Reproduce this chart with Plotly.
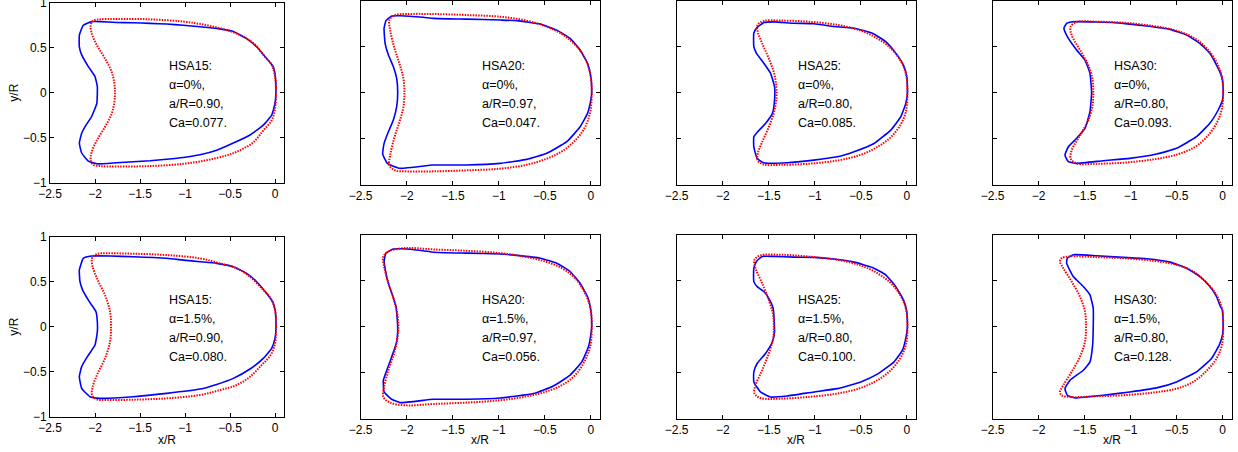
import plotly.graph_objects as go

# ---------------- data (x/R, y/R) ----------------
hsa15_a0_exp = [(0.01,0),(0.004,0.178),(-0.02,0.29),(-0.093,0.38),(-0.204,0.51),(-0.315,0.60),(-0.463,0.68),(-0.648,0.715),(-0.833,0.733),(-1.019,0.75),(-1.204,0.763),(-1.389,0.77),(-1.574,0.778),(-1.759,0.78),(-1.944,0.79),(-2.037,0.79),(-2.13,0.75),(-2.174,0.64),(-2.174,0.51),(-2.148,0.42),(-2.074,0.29),(-2.0,0.18),(-1.974,0.067),(-1.974,0),(-1.98,-0.12),(-2.04,-0.27),(-2.1,-0.36),(-2.148,-0.45),(-2.174,-0.56),(-2.148,-0.67),(-2.074,-0.76),(-1.98,-0.79),(-1.759,-0.778),(-1.574,-0.767),(-1.389,-0.756),(-1.204,-0.74),(-1.019,-0.72),(-0.833,-0.69),(-0.648,-0.64),(-0.463,-0.56),(-0.278,-0.47),(-0.13,-0.36),(-0.037,-0.25),(0,-0.12)]
hsa15_a0_sim = [(0.011,0),(0,0.178),(-0.037,0.307),(-0.13,0.42),(-0.24,0.55),(-0.389,0.64),(-0.537,0.696),(-0.76,0.75),(-1.019,0.79),(-1.389,0.815),(-1.759,0.82),(-1.944,0.815),(-2.02,0.80),(-2.048,0.75),(-2.037,0.66),(-1.98,0.53),(-1.889,0.38),(-1.815,0.233),(-1.785,0.104),(-1.778,0),(-1.785,-0.104),(-1.815,-0.233),(-1.889,-0.38),(-1.98,-0.53),(-2.037,-0.66),(-2.048,-0.75),(-2.02,-0.80),(-1.944,-0.815),(-1.759,-0.82),(-1.389,-0.815),(-1.019,-0.79),(-0.76,-0.75),(-0.537,-0.696),(-0.389,-0.64),(-0.24,-0.55),(-0.13,-0.42),(-0.037,-0.307),(0,-0.178)]

hsa20_a0_exp = [(0.01,0),(0,0.174),(-0.036,0.319),(-0.116,0.464),(-0.225,0.59),(-0.37,0.68),(-0.55,0.746),(-0.804,0.783),(-0.986,0.79),(-1.348,0.80),(-1.71,0.808),(-1.82,0.82),(-2.07,0.837),(-2.163,0.833),(-2.225,0.783),(-2.246,0.70),(-2.235,0.536),(-2.199,0.409),(-2.145,0.283),(-2.109,0.156),(-2.098,0),(-2.109,-0.152),(-2.145,-0.297),(-2.199,-0.424),(-2.246,-0.551),(-2.261,-0.667),(-2.21,-0.768),(-2.072,-0.822),(-1.71,-0.786),(-1.348,-0.786),(-0.986,-0.768),(-0.696,-0.725),(-0.478,-0.659),(-0.261,-0.533),(-0.116,-0.37),(-0.036,-0.225),(0,-0.08)]
hsa20_a0_sim = [(0.01,0),(-0.007,0.21),(-0.062,0.373),(-0.152,0.5),(-0.297,0.627),(-0.478,0.717),(-0.696,0.783),(-0.986,0.826),(-1.348,0.844),(-1.71,0.855),(-2.0,0.855),(-2.127,0.844),(-2.188,0.79),(-2.18,0.681),(-2.138,0.5),(-2.08,0.319),(-2.036,0.156),(-2.025,0),(-2.036,-0.156),(-2.08,-0.319),(-2.138,-0.5),(-2.18,-0.681),(-2.188,-0.79),(-2.127,-0.844),(-2.0,-0.855),(-1.71,-0.855),(-1.348,-0.844),(-0.986,-0.826),(-0.696,-0.783),(-0.478,-0.717),(-0.297,-0.627),(-0.152,-0.5),(-0.062,-0.373),(-0.007,-0.21)]

hsa25_a0_exp = [(0.007,0),(0,0.174),(-0.036,0.30),(-0.12,0.43),(-0.229,0.555),(-0.374,0.646),(-0.573,0.70),(-0.79,0.72),(-1.01,0.75),(-1.227,0.755),(-1.445,0.77),(-1.553,0.762),(-1.626,0.71),(-1.662,0.646),(-1.662,0.50),(-1.633,0.428),(-1.553,0.32),(-1.48,0.21),(-1.437,0.065),(-1.437,-0.08),(-1.46,-0.225),(-1.535,-0.334),(-1.62,-0.425),(-1.662,-0.48),(-1.662,-0.59),(-1.626,-0.715),(-1.553,-0.762),(-1.30,-0.762),(-1.01,-0.733),(-0.755,-0.697),(-0.573,-0.642),(-0.356,-0.552),(-0.174,-0.407),(-0.065,-0.261),(-0.011,-0.116)]
hsa25_a0_sim = [(0.007,0),(-0.011,0.21),(-0.073,0.356),(-0.174,0.483),(-0.32,0.59),(-0.50,0.675),(-0.755,0.737),(-1.08,0.773),(-1.37,0.784),(-1.553,0.78),(-1.62,0.737),(-1.62,0.664),(-1.572,0.537),(-1.50,0.374),(-1.437,0.192),(-1.415,0),(-1.437,-0.192),(-1.50,-0.374),(-1.572,-0.537),(-1.62,-0.664),(-1.62,-0.737),(-1.553,-0.78),(-1.37,-0.784),(-1.08,-0.773),(-0.755,-0.737),(-0.50,-0.675),(-0.32,-0.59),(-0.174,-0.483),(-0.073,-0.356),(-0.011,-0.21)]

hsa30_a0_exp = [(0.007,0),(0,0.138),(-0.022,0.21),(-0.065,0.30),(-0.138,0.428),(-0.246,0.536),(-0.391,0.627),(-0.572,0.688),(-0.826,0.725),(-1.08,0.754),(-1.37,0.768),(-1.623,0.772),(-1.696,0.754),(-1.725,0.70),(-1.688,0.609),(-1.587,0.464),(-1.496,0.355),(-1.442,0.21),(-1.424,0),(-1.442,-0.207),(-1.496,-0.388),(-1.587,-0.496),(-1.677,-0.587),(-1.714,-0.678),(-1.677,-0.75),(-1.587,-0.768),(-1.297,-0.739),(-1.007,-0.714),(-0.717,-0.667),(-0.50,-0.605),(-0.283,-0.478),(-0.138,-0.333),(-0.047,-0.188),(0,-0.08)]
hsa30_a0_sim = [(0.007,0),(-0.007,0.174),(-0.058,0.319),(-0.156,0.464),(-0.30,0.59),(-0.50,0.674),(-0.754,0.725),(-1.08,0.761),(-1.37,0.772),(-1.587,0.768),(-1.652,0.717),(-1.641,0.627),(-1.55,0.464),(-1.46,0.30),(-1.413,0.138),(-1.406,0),(-1.413,-0.138),(-1.46,-0.30),(-1.55,-0.464),(-1.641,-0.627),(-1.652,-0.717),(-1.587,-0.768),(-1.37,-0.772),(-1.08,-0.761),(-0.754,-0.725),(-0.50,-0.674),(-0.30,-0.59),(-0.156,-0.464),(-0.058,-0.319),(-0.007,-0.174)]

hsa15_a15_exp = [(0.011,0),(0.004,0.167),(-0.026,0.278),(-0.093,0.37),(-0.204,0.50),(-0.315,0.593),(-0.463,0.667),(-0.648,0.704),(-0.833,0.722),(-1.019,0.74),(-1.204,0.76),(-1.574,0.778),(-1.833,0.785),(-2.037,0.785),(-2.13,0.76),(-2.174,0.63),(-2.167,0.50),(-2.137,0.407),(-2.063,0.278),(-1.989,0.167),(-1.974,0.056),(-1.974,-0.056),(-2.0,-0.204),(-2.085,-0.333),(-2.148,-0.444),(-2.174,-0.556),(-2.148,-0.685),(-2.056,-0.778),(-1.944,-0.796),(-1.574,-0.778),(-1.204,-0.741),(-0.833,-0.693),(-0.648,-0.641),(-0.463,-0.574),(-0.278,-0.47),(-0.13,-0.352),(-0.037,-0.241),(0,-0.13)]
hsa15_a15_sim = [(0.011,0),(0,0.185),(-0.048,0.315),(-0.148,0.426),(-0.278,0.556),(-0.426,0.648),(-0.611,0.704),(-0.833,0.759),(-1.204,0.796),(-1.574,0.811),(-1.87,0.815),(-1.981,0.807),(-2.033,0.759),(-2.026,0.667),(-1.97,0.519),(-1.889,0.352),(-1.833,0.167),(-1.822,0),(-1.833,-0.167),(-1.889,-0.352),(-1.97,-0.519),(-2.026,-0.667),(-2.033,-0.759),(-1.981,-0.807),(-1.87,-0.815),(-1.574,-0.811),(-1.204,-0.796),(-0.833,-0.759),(-0.611,-0.704),(-0.426,-0.648),(-0.278,-0.556),(-0.148,-0.426),(-0.048,-0.315),(0,-0.185)]

hsa20_a15_exp = [(0.01,0),(0,0.182),(-0.036,0.327),(-0.116,0.473),(-0.225,0.60),(-0.37,0.69),(-0.55,0.745),(-0.804,0.775),(-0.986,0.79),(-1.348,0.80),(-1.71,0.81),(-1.82,0.825),(-2.036,0.847),(-2.145,0.844),(-2.225,0.80),(-2.246,0.709),(-2.21,0.509),(-2.163,0.364),(-2.116,0.218),(-2.098,0),(-2.109,-0.164),(-2.163,-0.327),(-2.21,-0.455),(-2.254,-0.582),(-2.246,-0.709),(-2.163,-0.789),(-2.072,-0.825),(-1.71,-0.789),(-1.348,-0.789),(-0.986,-0.775),(-0.623,-0.727),(-0.406,-0.644),(-0.225,-0.527),(-0.098,-0.382),(-0.025,-0.218),(0,-0.09)]
hsa20_a15_sim = [(0.01,0),(-0.007,0.218),(-0.072,0.382),(-0.17,0.527),(-0.315,0.636),(-0.496,0.709),(-0.732,0.764),(-0.986,0.80),(-1.348,0.825),(-1.71,0.84),(-2.0,0.855),(-2.181,0.825),(-2.254,0.764),(-2.246,0.655),(-2.199,0.473),(-2.138,0.291),(-2.101,0.127),(-2.09,0),(-2.101,-0.127),(-2.138,-0.291),(-2.199,-0.473),(-2.246,-0.655),(-2.254,-0.764),(-2.181,-0.825),(-2.0,-0.855),(-1.71,-0.84),(-1.348,-0.825),(-0.986,-0.80),(-0.732,-0.764),(-0.496,-0.709),(-0.315,-0.636),(-0.17,-0.527),(-0.072,-0.382),(-0.007,-0.218)]

hsa25_a15_exp = [(0.007,0),(0,0.164),(-0.036,0.291),(-0.12,0.436),(-0.229,0.564),(-0.374,0.644),(-0.573,0.702),(-0.79,0.735),(-1.01,0.753),(-1.227,0.756),(-1.445,0.764),(-1.572,0.764),(-1.633,0.709),(-1.662,0.636),(-1.662,0.49),(-1.626,0.436),(-1.553,0.382),(-1.50,0.309),(-1.452,0.20),(-1.437,-0.055),(-1.46,-0.164),(-1.535,-0.291),(-1.626,-0.40),(-1.662,-0.49),(-1.662,-0.60),(-1.59,-0.709),(-1.48,-0.764),(-1.30,-0.753),(-1.01,-0.709),(-0.755,-0.673),(-0.50,-0.60),(-0.32,-0.516),(-0.138,-0.382),(-0.047,-0.255),(-0.011,-0.127)]
hsa25_a15_sim = [(0.007,0),(-0.011,0.20),(-0.073,0.345),(-0.174,0.473),(-0.32,0.582),(-0.50,0.665),(-0.755,0.727),(-1.08,0.764),(-1.37,0.782),(-1.59,0.775),(-1.655,0.727),(-1.644,0.636),(-1.572,0.473),(-1.50,0.291),(-1.452,0.127),(-1.445,0),(-1.452,-0.127),(-1.50,-0.291),(-1.572,-0.473),(-1.644,-0.636),(-1.655,-0.727),(-1.59,-0.775),(-1.37,-0.782),(-1.08,-0.764),(-0.755,-0.727),(-0.50,-0.665),(-0.32,-0.582),(-0.174,-0.473),(-0.073,-0.345),(-0.011,-0.20)]

hsa30_a15_exp = [(0.007,0),(0,0.182),(-0.022,0.218),(-0.065,0.327),(-0.138,0.436),(-0.246,0.545),(-0.391,0.636),(-0.572,0.702),(-0.826,0.738),(-1.08,0.753),(-1.37,0.771),(-1.623,0.782),(-1.688,0.745),(-1.696,0.69),(-1.623,0.545),(-1.514,0.436),(-1.442,0.345),(-1.406,0.20),(-1.406,0),(-1.413,-0.20),(-1.442,-0.382),(-1.514,-0.473),(-1.659,-0.582),(-1.714,-0.673),(-1.688,-0.745),(-1.605,-0.775),(-1.297,-0.745),(-1.007,-0.709),(-0.717,-0.665),(-0.50,-0.60),(-0.283,-0.491),(-0.12,-0.345),(-0.036,-0.20),(0,-0.09)]
hsa30_a15_sim = [(0.007,0),(-0.007,0.20),(-0.065,0.345),(-0.167,0.473),(-0.319,0.60),(-0.50,0.673),(-0.754,0.716),(-1.08,0.745),(-1.37,0.756),(-1.659,0.764),(-1.75,0.745),(-1.768,0.709),(-1.732,0.636),(-1.641,0.491),(-1.551,0.327),(-1.496,0.164),(-1.486,0),(-1.496,-0.164),(-1.551,-0.327),(-1.641,-0.491),(-1.732,-0.636),(-1.768,-0.709),(-1.75,-0.745),(-1.659,-0.764),(-1.37,-0.756),(-1.08,-0.745),(-0.754,-0.716),(-0.50,-0.673),(-0.319,-0.60),(-0.167,-0.473),(-0.065,-0.345),(-0.007,-0.20)]

cases = ["HSA15", "HSA20", "HSA25", "HSA30"]
alpha_labels = ["0%", "1.5%"]
a_over_R = ["0.90", "0.97", "0.80", "0.80"]
ca_values = [["0.077", "0.047", "0.085", "0.093"],
             ["0.080", "0.056", "0.100", "0.128"]]
x_ticks = [-2.5, -2, -1.5, -1, -0.5, 0]
y_ticks = [-1, -0.5, 0, 0.5, 1]

curves = [[(hsa15_a0_exp, hsa15_a0_sim), (hsa20_a0_exp, hsa20_a0_sim),
           (hsa25_a0_exp, hsa25_a0_sim), (hsa30_a0_exp, hsa30_a0_sim)],
          [(hsa15_a15_exp, hsa15_a15_sim), (hsa20_a15_exp, hsa20_a15_sim),
           (hsa25_a15_exp, hsa25_a15_sim), (hsa30_a15_exp, hsa30_a15_sim)]]

# ---------------- layout geometry (pixels) ----------------
W, H = 1238, 452
col_px = [(50, 284), (360.7, 600), (676.7, 916), (992.7, 1231.7)]
row_px = [[(2.7, 182.7), (0.7, 184.7), (0.7, 184.7), (0.7, 184.7)],
          [(236.7, 416.7), (234.7, 418.7), (234.7, 418.7), (234.7, 418.7)]]

FONT = "Liberation Sans, Arial, Helvetica, sans-serif"
BLUE = "#0000ff"
RED = "#ff0000"

fig = go.Figure()
layout = dict(width=W, height=H, autosize=False,
              margin=dict(l=0, r=0, t=0, b=0, pad=0, autoexpand=False),
              paper_bgcolor="white", plot_bgcolor="white", showlegend=False,
              font=dict(family=FONT, size=12, color="black"))
annotations = []

k = 0
for r in range(2):
    for c in range(4):
        k += 1
        xa = "x" if k == 1 else f"x{k}"
        ya = "y" if k == 1 else f"y{k}"
        exp, sim = curves[r][c]
        ex = [p[0] for p in exp] + [exp[0][0]]
        ey = [p[1] for p in exp] + [exp[0][1]]
        sx = [p[0] for p in sim] + [sim[0][0]]
        sy = [p[1] for p in sim] + [sim[0][1]]
        fig.add_trace(go.Scatter(x=ex, y=ey, mode="lines", xaxis=xa, yaxis=ya,
                                 line=dict(color=BLUE, width=1.6, shape="spline", smoothing=0.4),
                                 hoverinfo="skip"))
        fig.add_trace(go.Scatter(x=sx, y=sy, mode="lines", xaxis=xa, yaxis=ya,
                                 line=dict(color=RED, width=2, dash="1.5px,1.2px",
                                           shape="spline", smoothing=1),
                                 hoverinfo="skip"))
        x0, x1 = col_px[c]
        y0, y1 = row_px[r][c]
        axis_common = dict(showline=True, linecolor="black", linewidth=1, mirror="ticks",
                           ticks="inside", ticklen=4, tickcolor="black", tickwidth=1,
                           showgrid=False, zeroline=False, fixedrange=True, automargin=False,
                           ticklabeloverflow="allow",
                           tickfont=dict(family=FONT, size=12, color="black"))
        layout["xaxis" if k == 1 else f"xaxis{k}"] = dict(
            axis_common, domain=[x0 / W, x1 / W], range=[-2.5, 0.1],
            tickvals=x_ticks, anchor=ya)
        layout["yaxis" if k == 1 else f"yaxis{k}"] = dict(
            axis_common, domain=[1 - y1 / H, 1 - y0 / H], range=[-1, 1],
            tickvals=y_ticks, anchor=xa, showticklabels=(c == 0))
        lines = [f"{cases[c]}:", f"\u03b1={alpha_labels[r]},",
                 f"a/R={a_over_R[c]},", f"Ca={ca_values[r][c]}."]
        for i, t in enumerate(lines):
            annotations.append(dict(x=-1.2, y=-0.015, xref=xa, yref=ya, text=t,
                                    showarrow=False, xanchor="left", yanchor="middle",
                                    yshift=(1.5 - i) * 19,
                                    font=dict(family=FONT, size=12.5, color="black")))
        if r == 1:
            annotations.append(dict(x=(x0 + x1) / 2 / W, y=1 - 440 / H, xref="paper", yref="paper",
                                    text="x/R", showarrow=False, xanchor="center", yanchor="middle",
                                    font=dict(family=FONT, size=12, color="black")))
        if c == 0:
            annotations.append(dict(x=14 / W, y=1 - (y0 + y1) / 2 / H, xref="paper", yref="paper",
                                    text="y/R", showarrow=False, textangle=-90,
                                    xanchor="center", yanchor="middle",
                                    font=dict(family=FONT, size=12, color="black")))

layout["annotations"] = annotations
fig.update_layout(**layout)
fig.write_html("out.html", config={"displayModeBar": False, "staticPlot": True},
               post_script="document.body.style.margin='0px';document.body.style.overflow='hidden';")
